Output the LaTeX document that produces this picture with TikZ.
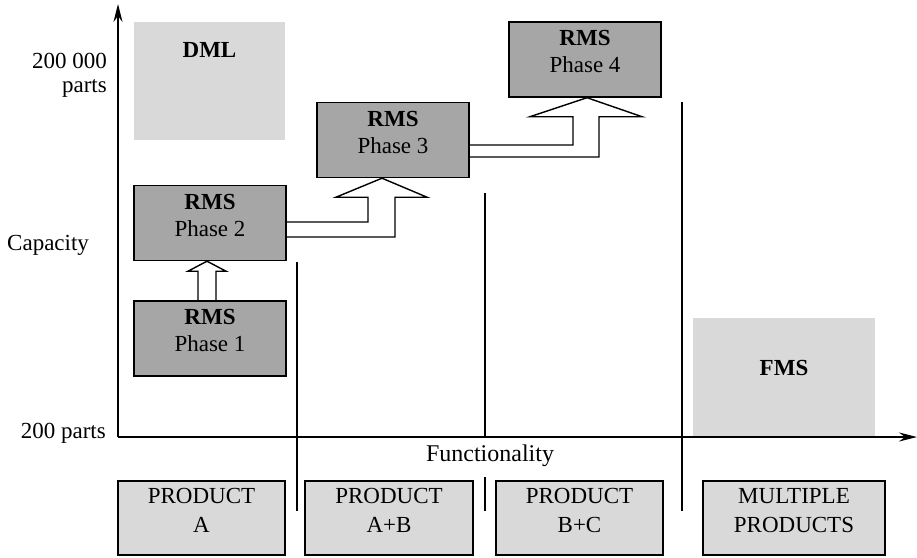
\documentclass[tikz,border=0pt]{standalone}
\usepackage{fontspec}
\setmainfont{Liberation Serif}
\usetikzlibrary{arrows.meta,calc}
\definecolor{lightbox}{RGB}{217,217,217}
\definecolor{darkbox}{RGB}{166,166,166}
\pgfdeclarelayer{background}
\pgfsetlayers{background,main}
\begin{document}
\begin{tikzpicture}[x=1pt,y=-1pt,
  every node/.style={font=\fontsize{23}{27}\selectfont, inner sep=0pt},
  rmsbox/.style={draw, line width=1.4pt, fill=darkbox, minimum width=152pt, minimum height=75pt, align=center, text depth=16pt},
  prodbox/.style={draw, line width=1.4pt, fill=lightbox, minimum height=74pt, align=center, text depth=16pt, font=\fontsize{23}{29}\selectfont},
  zone/.style={fill=lightbox},
  blockarrow/.style={draw, fill=white, line width=1.4pt, line join=miter},
  sepline/.style={line width=1.4pt},
  axis/.style={line width=1.4pt, -{Stealth[length=18pt,width=9pt,inset=6pt]}}
]
\useasboundingbox (0,0) rectangle (917,557);

% zones
\node[zone, minimum width=151pt, minimum height=118pt] (dml) at (209.5,81) {};
\node[font=\fontsize{23}{27}\selectfont\bfseries] (dmltext) at (209.5,50) {DML};
\node[zone, minimum width=182pt, minimum height=118pt] (fms) at (784,377) {};
\node[font=\fontsize{23}{27}\selectfont\bfseries] (fmstext) at (784,368) {FMS};

% RMS boxes
\node[rmsbox] (p1) at (210,338.5) {\textbf{RMS}\\Phase 1};
\node[rmsbox] (p2) at (210,223) {\textbf{RMS}\\Phase 2};
\node[rmsbox] (p3) at (393,140) {\textbf{RMS}\\Phase 3};
\node[rmsbox] (p4) at (585,59.5) {\textbf{RMS}\\Phase 4};

% block arrows (behind boxes)
\begin{pgfonlayer}{background}
\draw[blockarrow] ($(p1.north)+(-12,4)$) -- ($(p2.south)+(-12,10)$) -- ++(-10,0) -- ($(p2.south)+(-3,0)$) -- ($(p2.south)+(16,10)$) -- ++(-10,0) -- ($(p1.north)+(6,4)$);
\draw[blockarrow] ($(p2.east)+(-4,-1)$) -| ($(p3.south)+(-25,19)$) -- ++(-32,0) -- ($(p3.south)+(-11,0)$) -- ($(p3.south)+(34,19)$) -- ++(-32,0) |- ($(p2.east)+(-4,14)$);
\draw[blockarrow] ($(p3.east)+(-4,5)$) -| ($(p4.south)+(-12,19)$) -- ++(-43,0) -- ($(p4.south)+(2,0)$) -- ($(p4.south)+(57,19)$) -- ++(-43,0) |- ($(p3.east)+(-4,17)$);
\end{pgfonlayer}

% product boxes
\node[prodbox, minimum width=167pt] (pa) at (201.5,518) {PRODUCT\\A};
\node[prodbox, minimum width=168pt] (pab) at (389,518) {PRODUCT\\A+B};
\node[prodbox, minimum width=167pt] (pbc) at (579.5,518) {PRODUCT\\B+C};
\node[prodbox, minimum width=182pt] (pm) at (794,518) {MULTIPLE\\PRODUCTS};

% separator lines
\draw[sepline] (297,262) -- (297,511);
\draw[sepline] (485,193) -- (485,437);
\draw[sepline] (485,477) -- (485,511);
\draw[sepline] (682,102) -- (682,511);

% axes
\coordinate (origin) at (118,437);
\coordinate (ytip) at (118,4);
\coordinate (xtip) at (917,437);
\draw[axis] (origin) -- (ytip);
\draw[axis] (origin) -- (xtip);

% axis labels
\node[anchor=base east] (ymax) at (107,68) {200 000};
\node[anchor=base east] (ymaxb) at (107,92) {parts};
\node[anchor=base west] (ylab) at (7,250) {Capacity};
\node[anchor=base east] (ymin) at (106,438) {200 parts};
\node[anchor=base, font=\fontsize{24}{28}\selectfont] (xlab) at (490,461) {Functionality};
\end{tikzpicture}
\end{document}
